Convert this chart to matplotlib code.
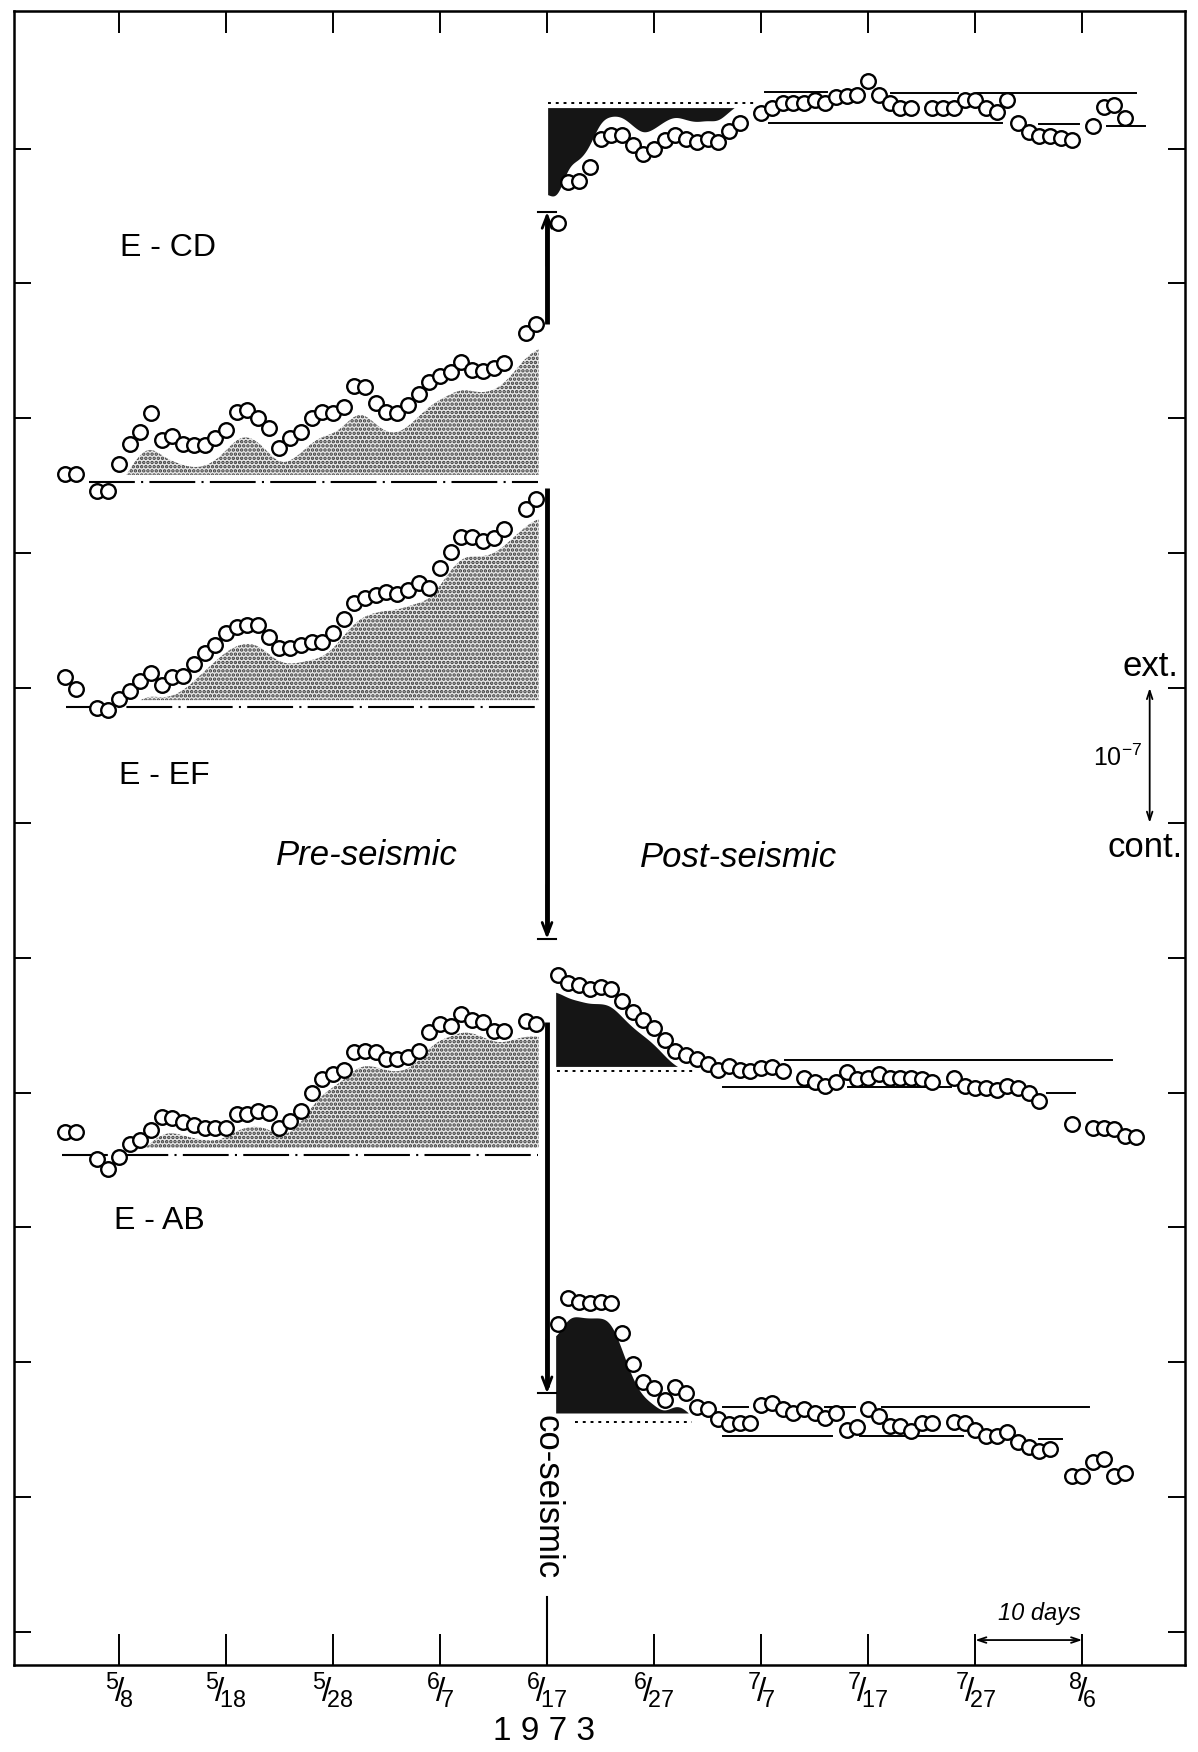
import numpy as np
import matplotlib
matplotlib.use("Agg")
import matplotlib.pyplot as plt

plt.rcParams["font.family"] = ["Liberation Sans", "DejaVu Sans"]
plt.rcParams["mathtext.fontset"] = "custom"
plt.rcParams["mathtext.rm"] = "Liberation Sans"
plt.rcParams["mathtext.it"] = "Liberation Sans:italic"
plt.rcParams["hatch.linewidth"] = 1.7

# days counted from 6/17 1973, strain in units of 1e-7 (one tick = 1e-7)
pre_days = [-45, -44, -42, -41, -40, -39, -38, -37, -36, -35, -34, -33, -32, -31,
            -30, -29, -28, -27, -26, -25, -24, -23, -22, -21, -20, -19, -18, -17,
            -16, -15, -14, -13, -12, -11, -10, -9, -8, -7, -6, -5, -4, -2, -1]

cd_pre = [8.59, 8.59, 8.46, 8.46, 8.66, 8.81, 8.90, 9.04, 8.84, 8.87, 8.81, 8.80,
          8.80, 8.85, 8.91, 9.05, 9.06, 9.00, 8.93, 8.78, 8.85, 8.90, 9.00, 9.05,
          9.04, 9.08, 9.24, 9.23, 9.11, 9.05, 9.04, 9.10, 9.18, 9.27, 9.31, 9.34,
          9.42, 9.36, 9.35, 9.37, 9.41, 9.63, 9.70]
ef_pre = [7.08, 6.99, 6.85, 6.84, 6.92, 6.98, 7.05, 7.11, 7.02, 7.08, 7.09, 7.18,
          7.26, 7.32, 7.41, 7.45, 7.47, 7.47, 7.38, 7.30, 7.30, 7.32, 7.34, 7.34,
          7.41, 7.51, 7.63, 7.67, 7.69, 7.71, 7.70, 7.73, 7.78, 7.74, 7.89, 8.01,
          8.12, 8.12, 8.09, 8.11, 8.18, 8.33, 8.40]
ab_pre = [3.71, 3.71, 3.51, 3.43, 3.52, 3.62, 3.65, 3.72, 3.82, 3.81, 3.78, 3.76,
          3.74, 3.74, 3.74, 3.84, 3.84, 3.86, 3.85, 3.74, 3.79, 3.86, 4.00, 4.10,
          4.14, 4.17, 4.30, 4.31, 4.30, 4.25, 4.25, 4.26, 4.31, 4.45, 4.51, 4.49,
          4.58, 4.54, 4.52, 4.46, 4.46, 4.53, 4.51]

cd_post_days = [1, 2, 3, 4, 5, 6, 7, 8, 9, 10, 11, 12, 13, 14, 15, 16, 17, 18, 20,
                21, 22, 23, 24, 25, 26, 27, 28, 29, 30, 31, 32, 33, 34, 36, 37, 38,
                39, 40, 41, 42, 43, 44, 45, 46, 47, 48, 49, 51, 52, 53, 54]
cd_post = [10.45, 10.75, 10.76, 10.86, 11.07, 11.10, 11.10, 11.03, 10.96, 11.00,
           11.06, 11.10, 11.07, 11.05, 11.07, 11.05, 11.13, 11.19, 11.26, 11.30,
           11.34, 11.34, 11.34, 11.36, 11.34, 11.38, 11.39, 11.40, 11.50, 11.40,
           11.34, 11.30, 11.30, 11.30, 11.30, 11.30, 11.36, 11.36, 11.30, 11.27,
           11.36, 11.19, 11.12, 11.09, 11.09, 11.08, 11.06, 11.17, 11.31, 11.32,
           11.23]

ef_post_days = [1, 2, 3, 4, 5, 6, 7, 8, 9, 10, 11, 12, 13, 14, 15, 16, 17, 18, 19,
                20, 21, 22, 24, 25, 26, 27, 28, 29, 30, 31, 32, 33, 34, 35, 36, 38,
                39, 40, 41, 42, 43, 44, 45, 46, 49, 51, 52, 53, 54, 55]
ef_post = [4.87, 4.81, 4.80, 4.77, 4.78, 4.77, 4.68, 4.60, 4.54, 4.48, 4.39, 4.31,
           4.28, 4.25, 4.21, 4.17, 4.20, 4.17, 4.16, 4.18, 4.19, 4.16, 4.11, 4.08,
           4.05, 4.08, 4.15, 4.10, 4.11, 4.14, 4.11, 4.11, 4.11, 4.10, 4.08, 4.11,
           4.05, 4.03, 4.03, 4.02, 4.05, 4.03, 4.00, 3.94, 3.77, 3.74, 3.74, 3.73,
           3.68, 3.67]

ab_post_days = [1, 2, 3, 4, 5, 6, 7, 8, 9, 10, 11, 12, 13, 14, 15, 16, 17, 18, 19,
                20, 21, 22, 23, 24, 25, 26, 27, 28, 29, 30, 31, 32, 33, 34, 35, 36,
                38, 39, 40, 41, 42, 43, 44, 45, 46, 47, 49, 50, 51, 52, 53, 54]
ab_post = [2.28, 2.48, 2.45, 2.44, 2.45, 2.44, 2.22, 1.99, 1.85, 1.81, 1.72, 1.82,
           1.77, 1.67, 1.65, 1.58, 1.54, 1.55, 1.55, 1.68, 1.70, 1.65, 1.62, 1.65,
           1.62, 1.59, 1.62, 1.50, 1.52, 1.65, 1.60, 1.53, 1.53, 1.49, 1.55, 1.55,
           1.56, 1.55, 1.50, 1.45, 1.45, 1.48, 1.41, 1.37, 1.34, 1.36, 1.16, 1.16,
           1.26, 1.28, 1.16, 1.18]

# pre-seismic reference levels (dash-dot) and their start day
pre_base = [8.53, 6.86, 3.54]
pre_base_start = [-42.8, -44.9, -45.3]

# co-seismic steps: start and end of the arrows
co_start = [9.70, 8.48, 4.52]
co_end = [10.53, 5.14, 1.77]

# post-seismic dotted reference levels (start, end, level)
dotted_refs = [(0.1, 19.5, 11.34), (0.9, 14.0, 4.16), (2.6, 13.5, 1.56)]

# bracketing lines of the post-seismic level (start, end, level)
band_lines = [
    (20.4, 26.2, 11.42), (32.1, 38.4, 11.41), (40.2, 55.0, 11.41),
    (20.7, 42.5, 11.19), (46.0, 49.7, 11.18), (52.3, 55.9, 11.17),
    (22.2, 52.8, 4.24), (16.4, 26.4, 4.04), (28.1, 37.7, 4.04), (46.7, 49.3, 4.00),
    (16.4, 18.8, 1.67), (26.0, 28.8, 1.67), (31.3, 50.6, 1.67),
    (16.4, 26.6, 1.45), (29.2, 38.9, 1.45), (46.0, 48.1, 1.43),
]

tick_days = [-40, -30, -20, -10, 0, 10, 20, 30, 40, 50]
tick_labels = ["5/8", "5/18", "5/28", "6/7", "6/17", "6/27", "7/7", "7/17", "7/27", "8/6"]


def smooth(days, vals, grid, sigma):
    y = np.interp(grid, days, vals)
    step = grid[1] - grid[0]
    n = int(3 * sigma / step)
    k = np.arange(-n, n + 1) * step
    w = np.exp(-0.5 * (k / sigma) ** 2)
    w /= w.sum()
    return np.convolve(np.pad(y, n, mode="edge"), w, mode="valid")


def first_run(mask):
    out = np.zeros_like(mask)
    stop = np.argmax(~mask) if (~mask).any() else len(mask)
    out[:stop] = True
    return out


fig = plt.figure(figsize=(11.98, 17.52), dpi=100)
ax = fig.add_axes([14 / 1198, 1 - 1665 / 1752, 1171 / 1198, 1654 / 1752])
ax.set_xlim(-49.8, 59.6)
ax.set_ylim(-0.245, 12.02)

# pre-seismic: stippled area, dash-dot base, circles
for vals, base, x0, off in zip([cd_pre, ef_pre, ab_pre], pre_base, pre_base_start,
                               [0.17, 0.13, 0.10]):
    g = np.linspace(-41, -0.8, 500)
    env = smooth(pre_days, vals, g, 0.9) - off
    b = base + 0.05
    ax.fill_between(g, b, env, where=env > b, interpolate=True, facecolor="#e6e6e6",
                    edgecolor="#3a3a3a", hatch="....", linewidth=0, zorder=1)
    ax.plot([x0, -0.8], [base, base], color="black", lw=1.5,
            dashes=(22, 3, 1, 3), zorder=2)
    ax.plot(pre_days, vals, "o", ms=10.5, mfc="white", mec="black", mew=1.7, zorder=4)

# post-seismic black areas
g = np.linspace(0.1, 20, 600)
low = smooth([0.1] + cd_post_days, [co_end[0]] + cd_post, g, 0.5) + 0.14
m = first_run(low < 11.30)
ax.fill_between(g, low, 11.30, where=m, facecolor="#151515", linewidth=0, zorder=1)

for days, vals, base in [(ef_post_days, ef_post, 4.19), (ab_post_days, ab_post, 1.62)]:
    g = np.linspace(0.85, 20, 600)
    top = smooth(days, vals, g, 0.6) - 0.12
    m = first_run(top > base)
    ax.fill_between(g, base, top, where=m, facecolor="#151515", linewidth=0, zorder=1)

for x0, x1, lev in dotted_refs:
    ax.plot([x0, x1], [lev, lev], color="black", lw=1.4, dashes=(1.5, 2.5), zorder=2)

for x0, x1, lev in band_lines:
    ax.plot([x0, x1], [lev, lev], color="black", lw=1.4, zorder=2)

for days, vals in [(cd_post_days, cd_post), (ef_post_days, ef_post), (ab_post_days, ab_post)]:
    ax.plot(days, vals, "o", ms=10.5, mfc="white", mec="black", mew=1.7, zorder=4)

# co-seismic arrows
for s, e in zip(co_start, co_end):
    sgn = 1 if e > s else -1
    ax.plot([0, 0], [s, e - sgn * 0.05], color="black", lw=3.5, solid_capstyle="butt", zorder=3)
    ax.annotate("", xy=(0, e), xytext=(0, e - sgn * 0.4),
                arrowprops=dict(arrowstyle="->,head_length=0.9,head_width=0.35",
                                lw=2, color="black", shrinkA=0, shrinkB=0), zorder=3)
    ax.plot([-0.8, 0.8], [e, e], color="black", lw=1.5, zorder=3)

# long 6/17 tick at the bottom
ax.plot([0, 0], [-0.245, 0.26], color="black", lw=1.5)

# scale arrows
ax.annotate("", xy=(56.3, 7.0), xytext=(56.3, 6.0),
            arrowprops=dict(arrowstyle="<->,head_length=0.6,head_width=0.2", lw=1.3,
                            color="black", shrinkA=0, shrinkB=0))
ax.annotate("", xy=(40, -0.06), xytext=(50, -0.06),
            arrowprops=dict(arrowstyle="<->,head_length=0.6,head_width=0.2", lw=1.3,
                            color="black", shrinkA=0, shrinkB=0))

# texts
ax.text(-35.4, 10.26, "E - CD", fontsize=23, ha="center", va="center")
ax.text(-35.8, 6.35, "E - EF", fontsize=23, ha="center", va="center")
ax.text(-36.2, 3.05, "E - AB", fontsize=23, ha="center", va="center")
ax.text(-16.8, 5.76, "Pre-seismic", fontsize=25, style="italic", ha="center", va="center")
ax.text(17.9, 5.74, "Post-seismic", fontsize=25, style="italic", ha="center", va="center")
ax.text(0, 1.0, "co-seismic", fontsize=25, rotation=270, ha="center", va="center",
        bbox=dict(facecolor="white", edgecolor="none", pad=1))
ax.text(56.4, 7.16, "ext.", fontsize=25, ha="center", va="center")
ax.text(55.9, 5.82, "cont.", fontsize=25, ha="center", va="center")
ax.text(53.3, 6.48, r"$\mathit{10}^{-7}$", fontsize=18, ha="center", va="center")
ax.text(46.0, 0.14, "10 days", fontsize=17, style="italic", ha="center", va="center")
fig.text(544 / 1198, 1 - 1732 / 1752, "1 9 7 3", fontsize=24, ha="center", va="center")

# axes, ticks
for sp in ax.spines.values():
    sp.set_linewidth(1.8)
ax.set_yticks(range(0, 12))
ax.set_yticklabels([])
ax.tick_params(axis="y", direction="in", length=12, width=1.4, left=True, right=True)
ax.set_xticks(tick_days)
labs = []
for t in tick_labels:
    num, den = t.split("/")
    labs.append(r"$^{\mathit{%s}}\!/\!_{\mathit{%s}}$" % (num, den))
ax.set_xticklabels(labs, fontsize=24)
ax.tick_params(axis="x", direction="in", length=22, width=1.4, pad=4)
top = ax.secondary_xaxis("top")
top.set_xticks(tick_days)
top.set_xticklabels([])
top.tick_params(direction="in", length=16, width=1.4)

fig.savefig("out.png", dpi=100)
